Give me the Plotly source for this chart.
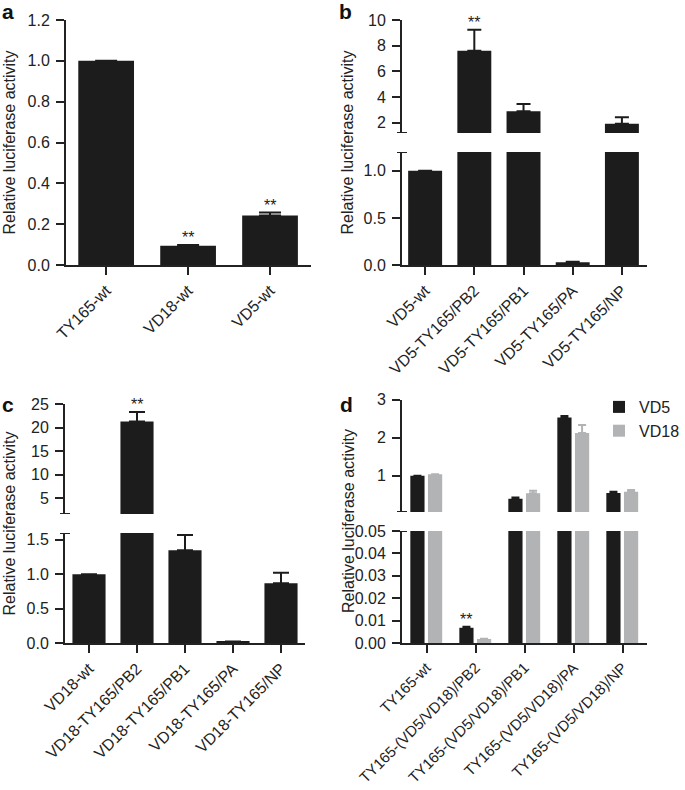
import plotly.graph_objects as go

W, H = 685, 790
FONT = "Liberation Sans, Arial, sans-serif"
BLACK = "#1c1c1c"
GRAY = "#b2b3b5"
AX = "#222222"

# ---------------- data ----------------
a_cats = ["TY165-wt", "VD18-wt", "VD5-wt"]
a_vals = [1.0, 0.094, 0.243]
a_err = [None, 0.004, 0.014]
a_star = [False, True, True]

b_cats = ["VD5-wt", "VD5-TY165/PB2", "VD5-TY165/PB1", "VD5-TY165/PA", "VD5-TY165/NP"]
b_vals = [1.0, 7.6, 2.9, 0.03, 1.92]
b_err = [None, 1.65, 0.55, 0.004, 0.5]
b_star = [False, True, False, False, False]

c_cats = ["VD18-wt", "VD18-TY165/PB2", "VD18-TY165/PB1", "VD18-TY165/PA", "VD18-TY165/NP"]
c_vals = [1.0, 21.3, 1.35, 0.02, 0.87]
c_err = [None, 2.0, 0.22, 0.002, 0.15]
c_star = [False, True, False, False, False]

d_cats = ["TY165-wt", "TY165-(VD5/VD18)/PB2", "TY165-(VD5/VD18)/PB1",
          "TY165-(VD5/VD18)/PA", "TY165-(VD5/VD18)/NP"]
d_vd5 = [1.0, 0.0068, 0.40, 2.53, 0.55]
d_vd5_err = [None, 0.0004, 0.03, 0.04, 0.03]
d_vd18 = [1.04, 0.0018, 0.54, 2.12, 0.58]
d_vd18_err = [None, 0.0001, 0.07, 0.21, 0.05]
d_star = [False, True, False, False, False]

YTITLE = "Relative luciferase activity"


def xd(p0, p1):
    return [p0 / W, p1 / W]


def yd(top, bottom):
    return [1 - bottom / H, 1 - top / H]


def err_dict(vals, err, color, cap, lo, hi):
    # only draw an error bar in the axis segment that holds the bar top
    keep = [bool(e) and lo <= v <= hi for v, e in zip(vals, err)]
    return dict(type="data", symmetric=False,
                array=[e if k else None for e, k in zip(err, keep)],
                arrayminus=[0 if k else None for k in keep],
                color=color, thickness=2, width=cap, visible=True)


fig = go.Figure()
layout = dict(width=W, height=H, margin=dict(l=0, r=0, t=0, b=0),
              paper_bgcolor="white", plot_bgcolor="white",
              template="none", barmode="overlay",
              font=dict(family=FONT, size=16, color="#222"),
              showlegend=True)
annotations = []
shapes = []


def yaxis_style(domain, rng, anchor, tickvals, fmt):
    return dict(domain=domain, range=rng, anchor=anchor, showline=True,
                linecolor=AX, linewidth=2, ticks="outside", ticklen=8,
                tickwidth=2, tickcolor=AX, showgrid=False, zeroline=False,
                tickvals=tickvals, tickformat=fmt, automargin=False,
                tickfont=dict(size=16, family=FONT, color="#222"),
                ticklabelstandoff=3)


def xaxis_style(domain, rng, anchor, visible=True, fs=16):
    d = dict(domain=domain, range=rng, anchor=anchor, showgrid=False,
             zeroline=False, automargin=False)
    if visible:
        d.update(showline=True, linecolor=AX, linewidth=2, ticks="outside",
                 ticklen=8, tickwidth=2, tickcolor=AX, tickangle=-45,
                 tickfont=dict(size=fs, family=FONT, color="#222"))
    else:
        d.update(visible=False)
    return d


def cap(xpx, yref, yval):
    # small horizontal cap marking the axis break
    shapes.append(dict(type="line", xref="paper", yref=yref,
                       x0=(xpx - 5) / W, x1=(xpx + 5) / W, y0=yval, y1=yval,
                       line=dict(color=AX, width=2)))


def stars(xref, yref, xs, tops, flags):
    for xv, t, f in zip(xs, tops, flags):
        if f:
            annotations.append(dict(x=xv, y=t, xref=xref, yref=yref, text="**",
                                    showarrow=False, yanchor="bottom", yshift=-3,
                                    font=dict(size=16, family=FONT, color="#222")))


def tops(vals, err):
    return [v + (e or 0) for v, e in zip(vals, err)]


# ---------------- panel a ----------------
xa = list(range(len(a_cats)))
fig.add_trace(go.Bar(x=xa, y=a_vals, width=0.68, marker=dict(color=BLACK, line=dict(width=0)),
                     error_y=err_dict(a_vals, a_err, BLACK, 11, 0, 1.2),
                     xaxis="x", yaxis="y", showlegend=False))
layout["xaxis"] = xaxis_style(xd(66, 311), [-0.49, 2.5], "y")
layout["xaxis"].update(tickvals=xa, ticktext=a_cats)
layout["yaxis"] = yaxis_style(yd(20, 265), [0, 1.2], "x",
                              [0, 0.2, 0.4, 0.6, 0.8, 1.0, 1.2], ".1f")
stars("x", "y", xa, tops(a_vals, a_err), a_star)

# ---------------- panel b ----------------
xb = list(range(len(b_cats)))
b_lo, b_brk, b_hi = 0, 1.2, 10
for xn, yn, lo, hi in (("x2", "y2", b_lo, b_brk), ("x3", "y3", b_brk, b_hi)):
    fig.add_trace(go.Bar(x=xb, y=b_vals, width=0.69, marker=dict(color=BLACK, line=dict(width=0)),
                         error_y=err_dict(b_vals, b_err, BLACK, 7, lo, hi),
                         xaxis=xn, yaxis=yn, showlegend=False))
b_xr = [-0.47, 4.51]
layout["xaxis2"] = xaxis_style(xd(402, 647), b_xr, "y2")
layout["xaxis2"].update(tickvals=xb, ticktext=b_cats)
layout["xaxis3"] = xaxis_style(xd(402, 647), b_xr, "y3", visible=False)
layout["yaxis2"] = yaxis_style(yd(152, 265), [b_lo, b_brk], "x2", [0, 0.5, 1.0], ".1f")
layout["yaxis3"] = yaxis_style(yd(20, 133), [b_brk, b_hi], "x3", [2, 4, 6, 8, 10], "d")
cap(402, "y2", b_brk)
cap(402, "y3", b_brk)
stars("x3", "y3", xb, tops(b_vals, b_err), b_star)

# ---------------- panel c ----------------
xc = list(range(len(c_cats)))
c_lo, c_brk, c_hi = 0, 1.6, 25
for xn, yn, lo, hi in (("x4", "y4", c_lo, c_brk), ("x5", "y5", c_brk, c_hi)):
    fig.add_trace(go.Bar(x=xc, y=c_vals, width=0.69, marker=dict(color=BLACK, line=dict(width=0)),
                         error_y=err_dict(c_vals, c_err, BLACK, 8, lo, hi),
                         xaxis=xn, yaxis=yn, showlegend=False))
c_xr = [-0.5, 4.5]
layout["xaxis4"] = xaxis_style(xd(65, 305), c_xr, "y4")
layout["xaxis4"].update(tickvals=xc, ticktext=c_cats)
layout["xaxis5"] = xaxis_style(xd(65, 305), c_xr, "y5", visible=False)
layout["yaxis4"] = yaxis_style(yd(533, 643), [c_lo, c_brk], "x4", [0, 0.5, 1.0, 1.5], ".1f")
layout["yaxis5"] = yaxis_style(yd(404, 514), [c_brk, c_hi], "x5", [5, 10, 15, 20, 25], "d")
cap(65, "y4", c_brk)
cap(65, "y5", c_brk)
stars("x5", "y5", xc, tops(c_vals, c_err), c_star)

# ---------------- panel d ----------------
xdv = list(range(len(d_cats)))
d_lo, d_brk, d_hi = 0, 0.05, 3
for i, (xn, yn, lo, hi) in enumerate((("x6", "y6", d_lo, d_brk), ("x7", "y7", d_brk, d_hi))):
    fig.add_trace(go.Bar(x=xdv, y=d_vd5, width=0.29, offset=-0.33, name="VD5",
                         marker=dict(color=BLACK, line=dict(width=0)),
                         error_y=err_dict(d_vd5, d_vd5_err, BLACK, 4, lo, hi),
                         xaxis=xn, yaxis=yn, showlegend=(i == 0), legendrank=1))
    fig.add_trace(go.Bar(x=xdv, y=d_vd18, width=0.29, offset=0.03, name="VD18",
                         marker=dict(color=GRAY, line=dict(width=0)),
                         error_y=err_dict(d_vd18, d_vd18_err, GRAY, 4, lo, hi),
                         xaxis=xn, yaxis=yn, showlegend=(i == 0), legendrank=2))
d_xr = [-0.5, 4.5]
layout["xaxis6"] = xaxis_style(xd(402, 647), d_xr, "y6", fs=15)
layout["xaxis6"].update(tickvals=xdv, ticktext=d_cats)
layout["xaxis7"] = xaxis_style(xd(402, 647), d_xr, "y7", visible=False)
layout["yaxis6"] = yaxis_style(yd(531, 643), [d_lo, d_brk], "x6",
                               [0, 0.01, 0.02, 0.03, 0.04, 0.05], ".2f")
layout["yaxis7"] = yaxis_style(yd(399.5, 512), [d_brk, d_hi], "x7", [1, 2, 3], "d")
cap(402, "y6", d_brk)
cap(402, "y7", d_brk)
stars("x6", "y6", [x - 0.185 for x in xdv], tops(d_vd5, d_vd5_err), d_star)

layout["legend"] = dict(x=1, y=1 - 390 / H, xanchor="right", yanchor="top",
                        font=dict(size=16, family=FONT, color="#222"),
                        bgcolor="rgba(0,0,0,0)", traceorder="normal",
                        itemwidth=30, tracegroupgap=4)

# ---------------- y titles & panel letters ----------------
for xpx, ypx in ((9, 142.5), (347, 142.5), (9, 523.5), (348, 521)):
    annotations.append(dict(x=xpx / W, y=1 - ypx / H, xref="paper", yref="paper",
                            text=YTITLE, textangle=-90, showarrow=False,
                            xanchor="center", yanchor="middle",
                            font=dict(size=16, family=FONT, color="#222")))
for letter, xpx, ypx in (("a", 8, 12), ("b", 345, 12), ("c", 8, 405), ("d", 346, 405)):
    annotations.append(dict(x=xpx / W, y=1 - ypx / H, xref="paper", yref="paper",
                            text="<b>%s</b>" % letter, showarrow=False,
                            xanchor="center", yanchor="middle",
                            font=dict(size=21, family=FONT, color="#111")))

layout["annotations"] = annotations
layout["shapes"] = shapes
fig.update_layout(**layout)
fig.write_html("out.html", config={"displayModeBar": False},
               post_script="document.body.style.margin='0';document.body.style.padding='0';"
                           "document.body.style.overflow='hidden';")
